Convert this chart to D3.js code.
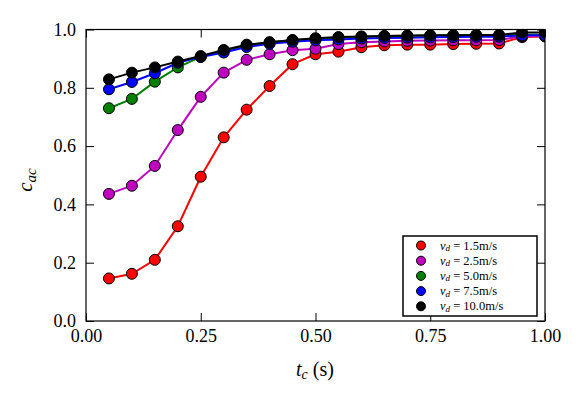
<!DOCTYPE html>
<html><head><meta charset="utf-8">
<script src="https://cdn.jsdelivr.net/npm/d3@7"></script>
<style>body{margin:0;background:#fff;} svg{display:block;} svg text{font-family:"Liberation Serif","Times New Roman","DejaVu Serif",serif !important;}</style>
</head><body><svg id="c" width="581" height="399"></svg>
<script>
const tc = [0.05,0.10,0.15,0.20,0.25,0.30,0.35,0.40,0.45,0.50,0.55,0.60,0.65,0.70,0.75,0.80,0.85,0.90,0.95,1.00];
const vd15 = [0.146,0.162,0.210,0.325,0.495,0.630,0.725,0.806,0.881,0.915,0.924,0.939,0.946,0.948,0.948,0.950,0.951,0.952,0.974,0.976];
const vd25 = [0.436,0.464,0.532,0.655,0.769,0.852,0.896,0.915,0.929,0.934,0.950,0.956,0.959,0.961,0.962,0.963,0.963,0.964,0.977,0.978];
const vd50 = [0.730,0.762,0.821,0.870,0.906,0.926,0.946,0.956,0.963,0.968,0.972,0.975,0.977,0.978,0.979,0.980,0.980,0.980,0.982,0.982];
const vd75 = [0.795,0.820,0.850,0.886,0.906,0.921,0.940,0.951,0.958,0.963,0.966,0.969,0.971,0.972,0.973,0.974,0.975,0.975,0.980,0.980];
const vd100 = [0.829,0.852,0.870,0.890,0.909,0.930,0.948,0.956,0.964,0.970,0.974,0.976,0.978,0.979,0.980,0.980,0.981,0.981,0.990,0.990];
const seriesLabels = ["1.5m/s","2.5m/s","5.0m/s","7.5m/s","10.0m/s"];
const seriesColors = ["#ff0000","#bf00bf","#008000","#0000ff","#000000"];
const xTicks = [0,0.25,0.5,0.75,1.0];
const yTicks = [0,0.2,0.4,0.6,0.8,1.0];

const series = [vd15,vd25,vd50,vd75,vd100];
const FONT = "'Liberation Serif','Times New Roman','DejaVu Serif',serif";
const svg = d3.select("#c");
const L=86,R=545,T=29.5,B=321;
const x = d3.scaleLinear().domain([0,1]).range([L,R]);
const y = d3.scaleLinear().domain([0,1]).range([B,T]);

svg.append("defs").append("clipPath").attr("id","clip")
  .append("rect").attr("x",L).attr("y",T).attr("width",R-L).attr("height",B-T);

const g = svg.append("g").attr("clip-path","url(#clip)");
const line = d3.line().x((d,i)=>x(tc[i])).y(d=>y(d));
series.forEach((s,k)=>{
  g.append("path").datum(s).attr("d",line).attr("fill","none")
    .attr("stroke",seriesColors[k]).attr("stroke-width",2);
  g.selectAll(null).data(s).enter().append("circle")
    .attr("cx",(d,i)=>x(tc[i])).attr("cy",d=>y(d)).attr("r",5.5)
    .attr("fill",seriesColors[k]).attr("stroke","#000").attr("stroke-width",1);
});

// axes
const fs = "18px";
const ax = svg.append("g");
ax.append("g").attr("transform",`translate(0,${B})`)
  .call(d3.axisBottom(x).tickValues(xTicks).tickSize(-8).tickPadding(8).tickFormat(d3.format(".2f")));
ax.append("g").attr("transform",`translate(0,${T})`)
  .call(d3.axisTop(x).tickValues(xTicks).tickSize(-8).tickFormat(""));
ax.append("g").attr("transform",`translate(${L},0)`)
  .call(d3.axisLeft(y).tickValues(yTicks).tickSize(-8).tickPadding(10).tickFormat(d3.format(".1f")));
ax.append("g").attr("transform",`translate(${R},0)`)
  .call(d3.axisRight(y).tickValues(yTicks).tickSize(-8).tickFormat(""));
ax.selectAll("g").attr("font-family",FONT);
ax.selectAll(".domain").remove();
ax.selectAll(".tick line").attr("stroke","#000").attr("stroke-width",1);
ax.selectAll(".tick text").attr("fill","#000").style("font-size",fs).style("font-family",FONT);
svg.append("rect").attr("x",L).attr("y",T).attr("width",R-L).attr("height",B-T)
  .attr("fill","none").attr("stroke","#000").attr("stroke-width",1.2);

// axis labels
const xl = svg.append("text").attr("x",315).attr("y",376).attr("text-anchor","middle").style("font-size","20px").style("font-family",FONT);
xl.append("tspan").style("font-style","italic").text("t");
xl.append("tspan").style("font-style","italic").style("font-size","14px").attr("dy",3).text("c");
xl.append("tspan").attr("dy",-3).text(" (s)");

const yl = svg.append("text").attr("transform","translate(32,180) rotate(-90)").attr("text-anchor","middle").style("font-size","21px").style("font-family",FONT);
yl.append("tspan").style("font-style","italic").text("c");
yl.append("tspan").style("font-style","italic").style("font-size","15px").attr("dy",4).text("ac");

// legend
const lg = svg.append("g");
lg.append("rect").attr("x",403).attr("y",236).attr("width",134).attr("height",80)
  .attr("fill","#fff").attr("stroke","#000").attr("stroke-width",1.5);
seriesLabels.forEach((lab,k)=>{
  const yy = 245.5 + k*15.2;
  lg.append("circle").attr("cx",421).attr("cy",yy).attr("r",4.5)
    .attr("fill",seriesColors[k]).attr("stroke","#000").attr("stroke-width",1);
  const t = lg.append("text").attr("x",440).attr("y",yy+4).style("font-size","12.5px").style("font-family",FONT);
  t.append("tspan").style("font-style","italic").text("v");
  t.append("tspan").style("font-style","italic").style("font-size","9px").attr("dy",1.5).text("d");
  t.append("tspan").attr("dy",-1.5).text(" = " + lab);
});
</script></body></html>
